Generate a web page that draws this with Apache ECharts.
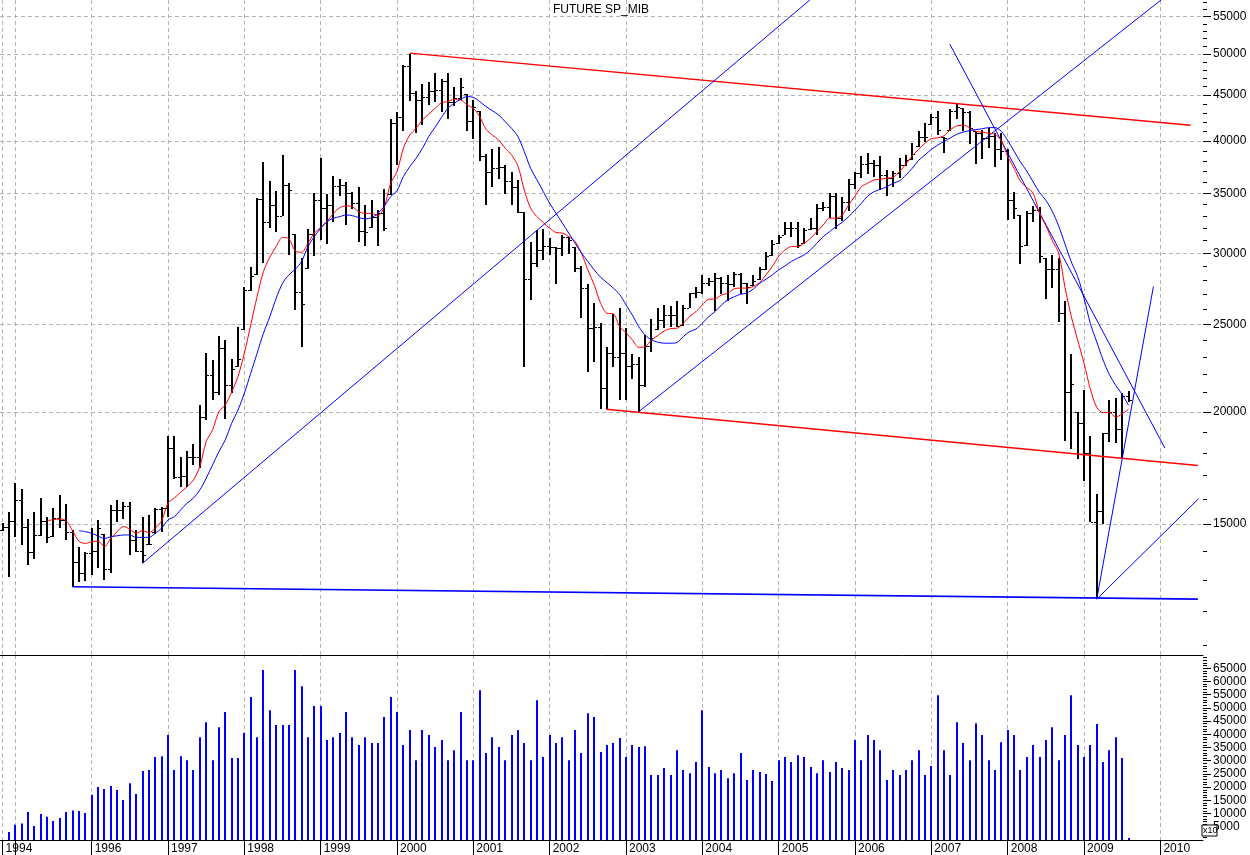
<!DOCTYPE html>
<html><head><meta charset="utf-8">
<script src="https://cdn.jsdelivr.net/npm/echarts@6/dist/echarts.min.js"></script>
<style>html,body{margin:0;padding:0;background:#fff}#c{width:1250px;height:855px}</style>
</head><body><div id="c"></div>
<script>
const TITLE = 'FUTURE SP_MIB';
// months counted from Jan 1994 = 0; first bar is Nov 1994
const FIRST_MONTH = 10;

// ---- monthly OHLC (rows = years: 1994 Nov-Dec, 1995..2008, 2009 Jan-Aug)
const opens = [
 14780,14905,
 15120,15960,14905,13970,14600,15120,14500,15250,15160,14715,13600,13250,
 13945,13990,14845,13365,15560,15560,15720,14400,14015,13865,14250,15590,
 15630,18220,16910,16970,17800,17830,19755,21980,21060,23530,21425,22320,
 22900,27300,28300,34460,32550,33970,33000,35750,35290,27210,26350,31510,
 34400,33700,33970,35640,35700,34990,34110,31800,31680,32960,33240,32000,
 41880,42540,48480,45200,44440,44740,45470,45590,46690,44210,44630,45980,
 42110,43680,38500,36930,37310,37410,36120,35560,33380,28080,29310,30270,
 30610,30530,30400,31320,31050,28880,27450,24770,24830,21240,23270,23040,
 23270,22490,22590,21420,23650,24140,25300,25620,25620,24870,26070,27090,
 27210,27790,27980,28160,27790,27720,28470,27840,27560,27980,28820,29830,
 30730,31320,32000,32000,30660,31860,32000,33680,33770,34750,32880,34250,
 35800,36900,37690,37850,37630,36680,36370,36900,37630,38140,38710,40440,
 40440,42530,41190,40330,43180,43690,43100,41400,40810,40330,40550,39150,
 39040,34430,33720,30660,33270,33490,29780,28810,28810,25760,21040,21490,
 19450,18010,15100,15520,18920,20010,19140,20800
];
const highs = [
 15035,15490,
 16660,16410,15200,15490,16040,15290,15640,16165,15800,14780,14160,13980,
 14845,15160,14615,15760,15960,15890,15890,14780,15290,15360,15650,15690,
 18815,18800,17830,18095,18420,20350,23270,22840,24290,24040,22900,24870,
 27560,29010,34600,37930,36150,35200,38550,35910,31510,29640,31920,34990,
 38330,34900,36560,36340,36000,35140,35560,33970,34400,33530,35380,42290,
 43130,48600,49950,45510,46330,46500,47580,46850,47580,45910,47040,45120,
 44440,43200,38670,39200,39370,37630,36930,36210,33380,30870,31860,31920,
 31190,30530,31460,31320,30530,29060,27730,26450,25090,23590,25670,26060,
 24770,23190,23040,24350,25340,26060,26290,26220,26560,26290,27090,27560,
 28400,28160,28560,28230,28400,28640,28560,27790,28400,29010,30100,31050,
 31460,32500,32500,32550,32000,32830,34050,34200,35050,35050,34690,36270,
 36990,38520,38840,38110,38520,37150,37060,38280,38600,39800,41090,41860,
 42890,43180,40440,43390,43980,43560,43180,41000,41190,41400,40810,40810,
 39150,35070,33120,33420,33890,33800,29630,29910,29630,26540,23190,20010,
 21140,18780,16190,18920,20610,20700,20980,21090
];
const lows = [
 14715,13110,
 14525,14215,13515,13750,14550,14290,14525,14845,14400,12780,12945,12975,
 13170,13420,13000,13250,15095,15225,13865,13980,13575,14215,14655,14715,
 15290,16830,16510,16510,17455,17305,19625,20610,20880,19625,20965,22450,
 24660,27260,28400,29260,32090,31720,32960,29890,25960,23590,28830,29780,
 31050,30740,32470,34750,32270,33680,30910,30600,32000,30600,31780,34840,
 37620,41080,44250,40860,41760,43840,44180,43010,42330,43760,44520,41040,
 40210,38040,33970,35560,36270,34930,33970,33240,22450,26580,29010,29460,
 29890,27800,29810,30020,28640,25450,22160,22740,20130,20130,22420,20610,
 20610,21740,20010,21330,23300,24660,24770,24830,24830,24920,26050,26810,
 27020,27590,25910,27020,26580,27540,27090,26330,27590,28030,28760,29780,
 30730,31400,31270,30450,30730,31860,31460,33380,32910,32000,32630,33380,
 35420,36370,36840,36520,35290,34750,35560,36370,37560,38080,39440,39880,
 41710,40620,38780,41000,42360,41090,39700,37720,38250,39330,37450,38080,
 32660,32760,29230,30520,32500,29300,26690,27510,25170,18560,18180,17740,
 16760,15050,12380,14980,18530,18450,17740,20510
];
const closes = [
 14905,15120,
 15960,14905,13970,14600,15120,14500,15250,15160,14715,13600,13250,13945,
 13990,14845,13365,15560,15560,15720,14400,14015,13865,14250,15590,15630,
 18220,16910,16970,17800,17830,19755,21980,21060,23530,21425,22320,22900,
 27300,28300,34460,32550,33970,33000,35750,35290,27210,26350,31510,34400,
 33700,33970,35640,35700,34990,34110,31800,31680,32960,33240,32000,41880,
 42540,48480,45200,44440,44740,45470,45590,46690,44210,44630,45980,42110,
 43680,38500,36930,37310,37410,36120,35560,33380,28080,29310,30270,30610,
 30530,30400,31320,31050,28880,27450,24770,24830,21240,23270,23040,23270,
 22490,22590,21420,23650,24140,25300,25620,25620,24870,26070,27090,27210,
 27790,27980,28160,27790,27720,28470,27840,27560,27980,28820,29830,30730,
 31320,32000,32000,30660,31860,32000,33680,33770,34750,32880,34250,35800,
 36900,37690,37850,37630,36680,36370,36900,37630,38140,38710,40440,40440,
 42530,41190,40330,43180,43690,43100,41400,40810,40330,40550,39150,39040,
 34430,33720,30600,33270,33490,29780,28810,28810,25760,21040,21490,19450,
 18010,15100,15520,18920,20010,19140,20800,20610
];
const volumes = [
 0,3000,
 5800,6200,10600,5300,9800,8800,7200,8300,10600,11200,11000,10200,
 17100,20100,19300,20400,18900,15100,21500,17400,26100,26500,31400,31700,
 39700,26500,31700,30200,26500,38900,44600,30200,42700,48400,31000,31000,
 40500,54100,38900,64300,49100,43500,43500,43500,64300,58200,38900,50700,
 50700,37800,38900,40500,48400,38900,35900,38900,36700,36700,46500,54100,
 48400,35900,41600,30200,41600,39700,35200,37800,30200,34000,48400,30200,
 30200,56700,32900,38900,35200,30200,39700,41600,36700,30200,52900,31400,
 39700,36700,38900,30200,41600,32900,48000,46500,33300,35900,36700,38600,
 31400,35900,35200,35500,24600,24600,27200,24600,34000,26500,25300,29500,
 49100,27600,25300,26500,23400,25300,32900,22700,26500,25700,25000,22300,
 30200,31400,29500,32100,31400,27600,25300,30200,25700,29500,27200,26500,
 37800,30200,39700,37800,34000,22700,26500,24600,26500,30200,34000,24600,
 28000,54800,34000,24600,44600,36700,30200,44200,39700,30200,26500,37000,
 41600,39700,26500,31400,35900,31400,37800,42700,30200,39700,54800,35900,
 31400,35900,43900,29500,34000,38900,31000,800
];
// moving averages (red starts Jun 1995, blue starts Nov 1995)
const RED_START = 17;
const redMA = [
 15130,15170,15200,15130,14750,14360,14280,
 14340,14360,14160,14460,14715,14910,14810,14655,14750,14680,14845,15130,
 15830,16040,16280,16510,16800,17380,18530,19090,20010,20350,21030,21890,
 23230,24980,26850,28630,29710,30530,31260,31150,30190,30090,30790,31600,
 32050,32550,33240,33720,33890,33800,33380,33240,33240,33040,33800,35910,
 36990,39270,40620,41330,42220,42870,43500,44130,44250,44520,44440,43880,
 43500,42580,41220,40620,40110,39270,38610,37530,35290,33680,32960,32470,
 32000,31650,31600,31320,30920,30020,28760,27680,26410,25740,25700,24870,
 24490,24040,23590,23630,24040,24310,24600,24750,24770,25090,25520,25850,
 26290,26680,26700,26970,27090,27400,27450,27450,27560,27840,28400,29010,
 29780,30270,30530,30530,30790,31180,31720,32270,32830,32830,33110,33970,
 34750,35590,35910,36210,36270,36370,36460,36990,37720,38520,39150,39780,
 40250,40330,40550,41190,41580,41660,41400,41000,40930,40810,40700,40060,
 38440,37310,36080,35510,35020,33260,32200,31020,30040,27520,25520,24030,
 22640,21190,20230,19960,19960,19730,19900,20130
];
const BLUE_START = 22;
const blueMA = [
 14750,14715,
 14655,14550,14460,14525,14560,14590,14590,14500,14500,14500,14655,14845,
 15160,15290,15560,15830,16040,16370,16870,17455,18060,18610,19420,20090,
 20970,22070,23230,24450,25510,26740,27790,28400,28810,29390,30530,31320,
 32000,32550,32830,32960,33110,33040,32880,32770,32880,33240,33860,34690,
 35230,36520,37460,38280,39270,40480,41450,42510,43500,44060,44520,44820,
 44740,44250,43690,43220,42760,42030,41330,40480,38940,37310,36210,35140,
 34110,33240,32420,31600,30790,30020,29390,28760,28230,27840,27450,27010,
 26290,25620,24870,24350,24040,23900,23840,23840,23880,24250,24560,24720,
 25090,25520,25850,26290,26630,26850,27020,27110,27380,27790,28080,28400,
 28760,29060,29390,29640,29890,30270,30790,31320,31720,32130,32500,32960,
 33530,34110,34750,35140,35350,35590,35910,36120,36680,37310,38080,38610,
 39150,39590,39970,40330,40700,40930,41090,41190,41280,41400,41400,41000,
 40060,38980,37900,37040,36030,35070,34370,33420,32200,30740,29350,28280,
 26740,25060,23920,22830,21990,21390,20910,20330
];
// hand-drawn trend lines: [month, price] end points
const trendRed = [
 [[74, 50100], [196.75, 41650]],
 [[104.9, 20130], [197.9, 17430]]
];
const trendBlue = [
 [[32, 13570], [136.9, 57400]],
 [[110, 20010], [192.1, 57400]],
 [[158.9, 51260], [192.7, 18230]],
 [[182, 12380], [190.9, 27550]],
 [[182, 12380], [198.0, 16010]]
];
const trendBase = [[21, 12780], [197.9, 12380]];

const yearTicks = [10, 12, 24, 36, 48, 60, 72, 84, 96, 108, 120, 132, 144, 156, 168, 180, 192];
const yearLabels = [10, 24, 36, 48, 60, 72, 84, 96, 108, 120, 132, 144, 156, 168, 180, 192];
const priceLabels = [15000, 20000, 25000, 30000, 35000, 40000, 45000, 50000, 55000];
const volumeLabels = [5000, 10000, 15000, 20000, 25000, 30000, 35000, 40000, 45000, 50000, 55000, 60000, 65000];

const X_MIN = 9.59, X_MAX = 198.7;
const P_MIN = 10730, P_MAX = 57400;
const V_MAX = 70000;
const FONT = "'Liberation Sans', Arial, sans-serif";

const priceMinor = [];
for (let v = 11000; v <= 57000; v += 1000) if (v % 5000) priceMinor.push(v);
const volMinor = [];
for (let v = 1000; v <= 69000; v += 1000) if (v % 5000) volMinor.push(v);

const ohlc = closes.map((c, i) => [FIRST_MONTH + i, opens[i], highs[i], lows[i], c]);
const vol = volumes.map((v, i) => [FIRST_MONTH + i, v]);
const red = redMA.map((v, i) => [RED_START + i, v]);
const blue = blueMA.map((v, i) => [BLUE_START + i, v]);

const dashed = {show: true, lineStyle: {color: '#b4b4b4', type: [4, 3], width: 1}};

function lineSeries(pts, color, width) {
  return {type: 'line', xAxisIndex: 0, yAxisIndex: 0, data: pts, symbol: 'none', silent: true,
    clip: true, lineStyle: {color: color, width: width}, z: 4};
}

const series = [
  {type: 'custom', xAxisIndex: 0, yAxisIndex: 0, data: ohlc, encode: {x: 0, y: [1, 2, 3, 4]}, z: 3,
   renderItem: function (params, api) {
     const x = api.value(0);
     const pO = api.coord([x, api.value(1)]);
     const pH = api.coord([x, api.value(2)]);
     const pL = api.coord([x, api.value(3)]);
     const pC = api.coord([x, api.value(4)]);
     const cx = Math.round(pH[0]);
     const cl = y => Math.round(Math.min(Math.max(y, pH[1]), pL[1] - 1));
     return {type: 'group', children: [
       {type: 'rect', shape: {x: cx - 1, y: Math.round(pH[1]), width: 2, height: Math.max(1, Math.round(pL[1] - pH[1]))}, style: {fill: '#000'}},
       {type: 'rect', shape: {x: cx - 3, y: cl(pO[1]), width: 2, height: 1}, style: {fill: '#000'}},
       {type: 'rect', shape: {x: cx + 1, y: cl(pC[1]), width: 2, height: 1}, style: {fill: '#000'}}
     ]};
   }},
  {type: 'line', xAxisIndex: 0, yAxisIndex: 0, data: red, symbol: 'none', silent: true, smooth: 0.3,
   lineStyle: {color: '#ff0000', width: 1}, z: 5},
  {type: 'line', xAxisIndex: 0, yAxisIndex: 0, data: blue, symbol: 'none', silent: true, smooth: 0.3,
   lineStyle: {color: '#0000ff', width: 1}, z: 5},
  {type: 'custom', xAxisIndex: 1, yAxisIndex: 2, data: vol, encode: {x: 0, y: 1},
   renderItem: function (params, api) {
     const p0 = api.coord([api.value(0), 0]);
     const p1 = api.coord([api.value(0), api.value(1)]);
     const cx = Math.round(p0[0]);
     return {type: 'rect', shape: {x: cx - 1, y: p1[1], width: 2, height: p0[1] - p1[1]}, style: {fill: '#0000ff'}};
   }}
];
trendRed.forEach(p => series.push(lineSeries(p, '#ff0000', 1.5)));
trendBlue.forEach(p => series.push(lineSeries(p, '#0000ff', 1)));
series.push(lineSeries(trendBase, '#0000ff', 1.6));

const option = {
  animation: false,
  backgroundColor: '#ffffff',
  textStyle: {fontFamily: FONT},
  grid: [
    {left: 0, right: 47, top: 0, height: 655, outerBoundsMode: 'none', containLabel: false},
    {left: 0, right: 47, top: 655, height: 185, outerBoundsMode: 'none', containLabel: false}
  ],
  graphic: [
    {type: 'text', left: 553, top: 4, style: {text: TITLE, font: '12px ' + FONT, fill: '#000'}, z: 10},
    {type: 'rect', shape: {x: 1202, y: 825, width: 15, height: 11}, style: {fill: '#fff', stroke: '#000', lineWidth: 1}, z: 10},
    {type: 'text', x: 1203, y: 826, style: {text: 'x10', font: '9px ' + FONT, fill: '#000'}, z: 11}
  ],
  xAxis: [
    {type: 'value', gridIndex: 0, min: X_MIN, max: X_MAX,
     axisLine: {show: true, onZero: false, lineStyle: {color: '#000', width: 1}},
     axisTick: {show: false, customValues: yearTicks}, axisLabel: {show: false},
     splitLine: dashed},
    {type: 'value', gridIndex: 1, min: X_MIN, max: X_MAX,
     axisLine: {show: true, onZero: false, lineStyle: {color: '#000', width: 1}},
     axisTick: {show: true, customValues: yearTicks, length: 15, lineStyle: {color: '#000', width: 1}},
     axisLabel: {show: true, customValues: yearLabels, align: 'left', margin: 3, padding: [0, 0, 0, 3],
       fontSize: 12, color: '#000', fontFamily: FONT, formatter: v => String(1994 + Math.floor(v / 12))},
     splitLine: dashed}
  ],
  yAxis: [
    {type: 'log', gridIndex: 0, position: 'right', min: P_MIN, max: P_MAX, logBase: 10,
     axisLine: {show: false},
     axisTick: {show: true, customValues: priceLabels, length: 8, lineStyle: {color: '#000'}},
     axisLabel: {show: true, customValues: priceLabels, margin: 10, fontSize: 12, color: '#000', fontFamily: FONT,
       formatter: v => String(Math.round(v))},
     splitLine: dashed},
    {type: 'log', gridIndex: 0, position: 'right', min: P_MIN, max: P_MAX, logBase: 10,
     axisLine: {show: false},
     axisTick: {show: true, customValues: priceMinor, length: 4, lineStyle: {color: '#000'}},
     axisLabel: {show: false}, splitLine: {show: false}},
    {type: 'value', gridIndex: 1, position: 'right', min: 0, max: V_MAX,
     axisLine: {show: false},
     axisTick: {show: true, customValues: volumeLabels, length: 8, lineStyle: {color: '#000'}},
     axisLabel: {show: true, customValues: volumeLabels, margin: 10, fontSize: 12, color: '#000', fontFamily: FONT,
       formatter: v => String(Math.round(v))},
     splitLine: {show: false}},
    {type: 'value', gridIndex: 1, position: 'right', min: 0, max: V_MAX,
     axisLine: {show: false},
     axisTick: {show: true, customValues: volMinor, length: 4, lineStyle: {color: '#000'}},
     axisLabel: {show: false}, splitLine: {show: false}}
  ],
  series: series
};
const chart = echarts.init(document.getElementById('c'), null, {renderer: 'canvas'});
chart.setOption(option);
</script>
</body></html>
